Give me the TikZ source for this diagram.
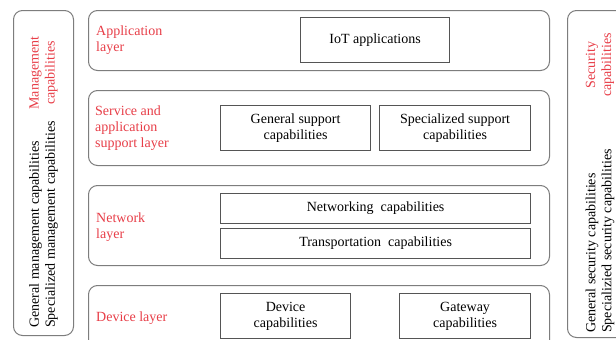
\documentclass[tikz,border=0pt]{standalone}
\usepackage{fontspec}
\setmainfont{Liberation Serif}
\definecolor{lblred}{RGB}{232,62,72}
\definecolor{outerc}{RGB}{125,125,125}
\definecolor{innerc}{RGB}{85,85,85}
\begin{document}
\begin{tikzpicture}[x=1pt,y=-1pt,
  layerbox/.style={draw=outerc, line width=1pt, rounded corners=9pt, anchor=north west, inner sep=0pt},
  capbox/.style={draw=innerc, line width=1.2pt, anchor=north west, inner sep=0pt, align=center, font=\fontsize{14}{16}\selectfont},
  lbl/.style={text=lblred, align=left, anchor=west, font=\fontsize{14}{16}\selectfont, inner sep=0pt},
  sidered/.style={text=lblred, align=center, font=\fontsize{14}{16}\selectfont, inner sep=0pt, rotate=90},
  sideblk/.style={align=left, anchor=west, font=\fontsize{14}{16}\selectfont, inner sep=0pt, rotate=90}]
\clip (0,0) rectangle (616,340);
\fill[white] (0,0) rectangle (616,340);

% side columns
\node[layerbox, minimum width=60pt, minimum height=325pt] (mgmt) at (13,10) {};
\node[layerbox, minimum width=70pt, minimum height=327pt] (sec) at (567,10) {};

% layers
\node[layerbox, minimum width=461pt, minimum height=60pt] (app) at (88,10) {};
\node[layerbox, minimum width=461pt, minimum height=75pt] (svc) at (88,90) {};
\node[layerbox, minimum width=461pt, minimum height=80pt] (net) at (88,185) {};
\node[layerbox, minimum width=461pt, minimum height=80pt] (dev) at (88,285) {};

% capability boxes
\node[capbox, minimum width=149pt, minimum height=45pt] (iot) at (300,17) {IoT applications};
\node[capbox, minimum width=150pt, minimum height=45pt] (gen) at (220,105) {General support\\capabilities};
\node[capbox, minimum width=151pt, minimum height=45pt] (spec) at (379,105) {Specialized support\\capabilities};
\node[capbox, minimum width=310pt, minimum height=30pt] (netw) at (220,193) {Networking\ \ capabilities};
\node[capbox, minimum width=310pt, minimum height=30pt] (trans) at (220,228) {Transportation\ \ capabilities};
\node[capbox, minimum width=130pt, minimum height=45pt] (devc) at (220,293) {Device\\capabilities};
\node[capbox, minimum width=131pt, minimum height=45pt] (gw) at (399,293) {Gateway\\capabilities};

% layer labels
\node[lbl] (lapp) at (96,40) {Application\\layer};
\node[lbl] (lsvc) at (95,128) {Service and\\application\\support layer};
\node[lbl] (lnet) at (96,227) {Network\\layer};
\node[lbl] (ldev) at (96,318) {Device layer};

% side labels
\node[sidered] (lmg) at (43.5,73) {Management\\capabilities};
\node[sideblk] (lmgb) at (43.5,328) {General management capabilities\\Specialized management capabilities};
\node[sidered] (lsec) at (600,65) {Security\\capabilities};
\node[sideblk] (lsecb) at (600,333) {General security capabilities\\Specializied security capabilities};
\end{tikzpicture}
\end{document}
